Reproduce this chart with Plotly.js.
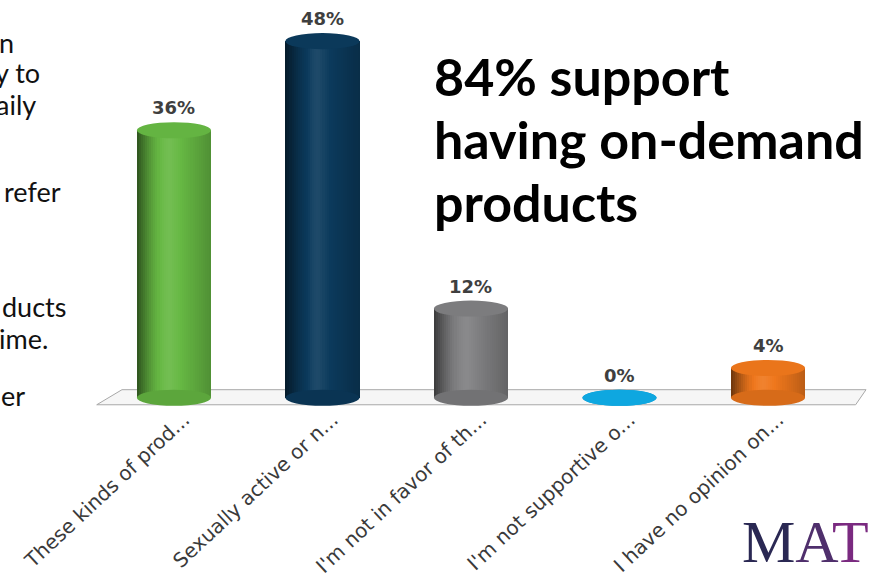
<!DOCTYPE html>
<html>
<head>
<meta charset="utf-8">
<script src="https://cdn.plot.ly/plotly-3.0.1.min.js"></script>
<style>html,body{margin:0;padding:0;background:#fff;}#chart{width:871px;height:587px;}</style>
</head>
<body>
<div id="chart"></div>
<script>
// ---- data ----
const categories = ["These kinds of prod...", "Sexually active or n...", "I'm not in favor of th...", "I'm not supportive o...", "I have no opinion on..."];
const values = [36, 48, 12, 0, 4];
const valueLabels = ["36%", "48%", "12%", "0%", "4%"];
const barColors = ["#66b843", "#0b3a5c", "#7f7f81", "#0ea7e0", "#ef771c"];
const calloutLines = ["84% support", "having on-demand", "products"];
const leftTextLines = ["n", "y to", "aily", "refer", "ducts", "ime.", "er"];
const logoLetters = ["M", "A", "T"];

// ---- geometry (layout only) ----
const W = 871, H = 587;
const M = {l: 70, r: 2, t: 4, b: 167};
const XR = [-0.7, 4.68], YR = [-3, 53];
const barW = 0.5;          // bar width in category units
const ellH = 1.08;         // half height of ellipses (value units)
const nStrips = 36;

const xIdx = categories.map((_, i) => i);
const pw = W - M.l - M.r, ph = H - M.t - M.b;
const pxToPaperX = px => (px - M.l) / pw;
const pxToPaperY = py => 1 - (py - M.t) / ph;

function hexToRgb(h){return [parseInt(h.substr(1,2),16),parseInt(h.substr(3,2),16),parseInt(h.substr(5,2),16)];}
function shade(hex, f){
  const c = hexToRgb(hex);
  const out = c.map(v => f <= 1 ? v * f : v + (255 - v) * (f - 1));
  return 'rgb(' + out.map(v => Math.round(Math.max(0, Math.min(255, v)))).join(',') + ')';
}
function profile(t){ // cylinder shading across width
  if (t < 0.45) return 0.45 + (1.08 - 0.45) * Math.sin((t / 0.45) * Math.PI / 2);
  return 1.08 - (1.08 - 0.78) * ((t - 0.45) / 0.55);
}

const traces = [];
for (let k = 0; k < nStrips; k++){
  const t = (k + 0.5) / nStrips;
  traces.push({
    type: 'bar', x: xIdx, y: values,
    width: k === nStrips - 1 ? barW / nStrips : barW / nStrips * 2,
    offset: -barW / 2 + k * barW / nStrips,
    marker: {color: barColors.map(c => shade(c, profile(t))), line: {width: 0}},
    hoverinfo: 'skip', showlegend: false
  });
}

const shapes = [];
// floor plane
shapes.push({
  type: 'path', xref: 'x', yref: 'y', layer: 'below',
  path: 'M -0.52,-0.95 L 4.59,-0.95 L 4.66,1.08 L -0.35,1.08 Z',
  fillcolor: '#f6f6f6', line: {color: '#a8a8a8', width: 1}
});
xIdx.forEach((x, i) => {
  shapes.push({type: 'circle', xref: 'x', yref: 'y', layer: 'above',
    x0: x - barW / 2, x1: x + barW / 2, y0: -ellH, y1: ellH,
    fillcolor: shade(barColors[i], 0.9), line: {width: 0}});
  shapes.push({type: 'circle', xref: 'x', yref: 'y', layer: 'above',
    x0: x - barW / 2, x1: x + barW / 2, y0: values[i] - ellH, y1: values[i] + ellH,
    fillcolor: shade(barColors[i], values[i] === 0 ? 1 : 0.98), line: {width: 0}});
});

const annotations = [];
xIdx.forEach((x, i) => {
  annotations.push({x: x, y: values[i], xref: 'x', yref: 'y', text: valueLabels[i],
    showarrow: false, yanchor: 'bottom', yshift: 10,
    font: {family: 'DejaVu Sans', size: 18, color: '#3f3f3f', weight: 'bold'}});
});
const calloutY = [76, 139, 202];
calloutLines.forEach((s, i) => {
  annotations.push({x: pxToPaperX(432), y: pxToPaperY(calloutY[i]), xref: 'paper', yref: 'paper',
    text: '<b>' + s + '</b>', showarrow: false, xanchor: 'left', yanchor: 'middle',
    font: {family: 'Lato', size: 52, color: '#000'}});
});
const leftY = [42, 73, 104, 192, 306, 338, 395];
const leftX = [16, 42, 38, 63, 68, 50, 27];
leftTextLines.forEach((s, i) => {
  annotations.push({x: pxToPaperX(leftX[i]), y: pxToPaperY(leftY[i]), xref: 'paper', yref: 'paper',
    text: s, showarrow: false, xanchor: 'right', yanchor: 'middle',
    font: {family: 'Lato', size: 27, color: '#111'}});
});
const logoColors = ['#2a2853', '#4f2f6c', '#7a2a80'];
annotations.push({x: pxToPaperX(740), y: pxToPaperY(542), xref: 'paper', yref: 'paper',
  text: logoLetters.map((c, i) => '<span style="color:' + logoColors[i] + '">' + c + '</span>').join(''),
  showarrow: false, xanchor: 'left', yanchor: 'middle',
  font: {family: 'Liberation Serif', size: 60, color: '#4f2f6c'}});

const layout = {
  width: W, height: H, margin: M,
  paper_bgcolor: '#fff', plot_bgcolor: 'rgba(0,0,0,0)',
  barmode: 'overlay', bargap: 0,
  showlegend: false,
  xaxis: {range: XR, tickvals: xIdx, ticktext: categories, tickangle: -43,
    ticklabelstandoff: -17, ticklabelshift: 10,
    showgrid: false, zeroline: false, showline: false, ticks: '',
    tickfont: {family: 'DejaVu Sans', size: 20, color: '#3a3a3a'}},
  yaxis: {range: YR, showgrid: false, zeroline: false, showline: false,
    showticklabels: false, ticks: ''},
  shapes: shapes, annotations: annotations
};

Plotly.newPlot('chart', traces, layout, {displayModeBar: false, staticPlot: true});
</script>
</body>
</html>
